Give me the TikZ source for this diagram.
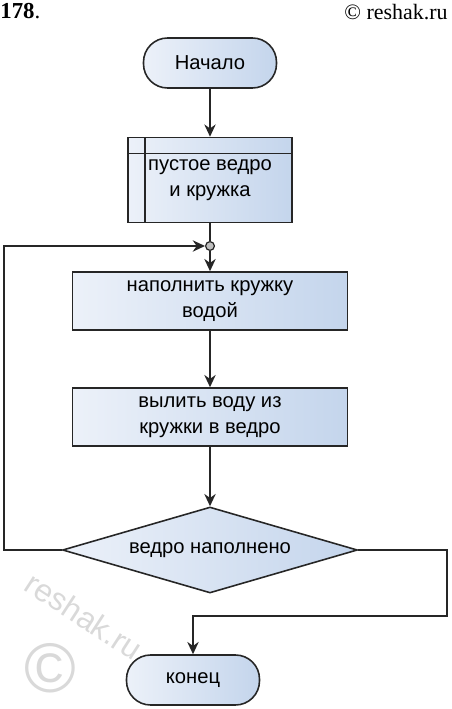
\documentclass[tikz,border=0pt]{standalone}
\usepackage{fontspec}
\setmainfont{Liberation Sans}
\newfontfamily\headfont{Liberation Serif}
\usetikzlibrary{arrows.meta,positioning,shapes.geometric}

\definecolor{boxlight}{RGB}{236,241,249}
\definecolor{boxdark}{RGB}{196,213,236}

\tikzset{
  blockfill/.style={left color=boxlight, right color=boxdark, draw=black!85, line width=0.9pt},
  term/.style={blockfill, rectangle, rounded corners=0.48cm, minimum width=2.66cm, minimum height=1cm},
  proc/.style={blockfill, rectangle, minimum width=5.5cm, minimum height=1.16cm, align=center},
  predef/.style={blockfill, rectangle, minimum width=3.28cm, minimum height=1.7cm, align=center,
    path picture={
      \draw[line width=0.9pt] ([yshift=-0.32cm]path picture bounding box.north west) -- ([yshift=-0.32cm]path picture bounding box.north east);
      \draw[line width=0.9pt] ([xshift=0.34cm]path picture bounding box.north west) -- ([xshift=0.34cm]path picture bounding box.south west);
    }},
  cond/.style={blockfill, diamond, aspect=3.43, minimum width=5.9cm, minimum height=1.72cm, inner sep=0pt},
  flow/.style={draw=black!85, line width=0.9pt, -{Stealth[length=7pt,width=6.5pt]}},
  plain/.style={draw=black!85, line width=0.9pt}
}

\begin{document}
\begin{tikzpicture}[x=0.02cm, y=-0.02cm, font=\fontsize{11.5}{14.5}\selectfont]
  \useasboundingbox (0,0) rectangle (451,709);

  % Заголовок
  \node[anchor=north west, inner sep=0, font=\headfont\fontsize{13}{13}\selectfont] (num) at (0,3) {\textbf{178}.};
  \node[anchor=north east, inner sep=0, font=\headfont\fontsize{12.5}{13}\selectfont] (site) at (448,4) {© reshak.ru};

  % Водяной знак
  \node[rotate=-33, text=gray!30, inner sep=0, font=\fontsize{18}{18}\selectfont] (wmark) at (84,616) {reshak.ru};
  \node[text=gray!30, inner sep=0, font=\fontsize{40}{40}\selectfont] (wcopy) at (50,668) {©};

  % Блоки
  \node[term] (start) at (210,63) {Начало};
  \node[predef] (init) at (210,180) {пустое ведро\\и кружка};
  \node[circle, draw=black!85, fill=gray!50, line width=0.7pt, inner sep=0pt, minimum size=5pt] (join) at (210,246) {};
  \node[proc] (fill) at (210,301) {наполнить кружку\\водой};
  \node[proc] (pour) at (210,417) {вылить воду из\\кружки в ведро};
  \node[cond] (check) at (210,550) {ведро наполнено};
  \node[term] (finish) at (193,680) {конец};

  % Связи
  \draw[flow] (start) -- (init);
  \draw[plain] (init) -- (join);
  \draw[flow] (join) -- (fill);
  \draw[flow] (fill) -- (pour);
  \draw[flow] (pour) -- (check);
  \draw[flow] (check.west) -- ++(-58,0) |- (join);
  \draw[flow] (check.east) -- ++(89,0) -- ++(0,66) -| (finish.north);
\end{tikzpicture}
\end{document}
